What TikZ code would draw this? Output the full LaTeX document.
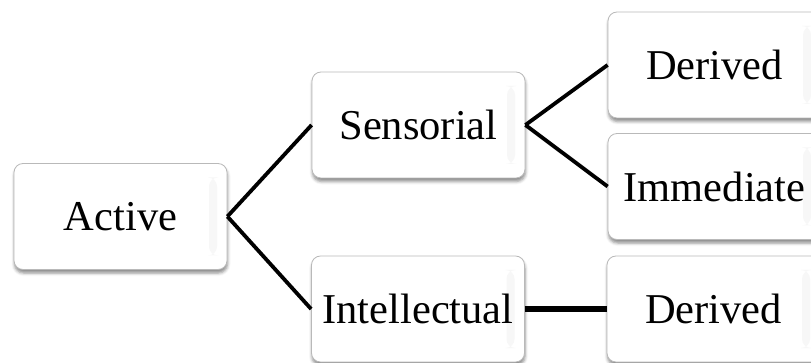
\documentclass[tikz,border=0pt]{standalone}
\usepackage{fontspec}
\setmainfont{Liberation Serif}
\usetikzlibrary{shadows.blur}
\tikzset{
  box/.style={draw=gray!55, line width=0.8pt, fill=white, rounded corners=9pt,
    minimum width=213pt, minimum height=106pt, inner sep=0pt,
    font=\fontsize{42.5}{48}\selectfont,
    blur shadow={shadow xshift=0.5pt, shadow yshift=-3.5pt, shadow blur radius=3pt, shadow opacity=45},
    % faint bevel strip inside the right edge, painted under the label
    path picture={\fill[gray!6]
      ([xshift=-18pt,yshift=-14pt]path picture bounding box.north east) rectangle
      ([xshift=-10pt,yshift=14pt]path picture bounding box.south east);}},
  link/.style={line width=3.8pt, black},
  biglink/.style={line width=6pt, black}
}
\begin{document}
\begin{tikzpicture}[x=1pt,y=-1pt]
\useasboundingbox (0,0) rectangle (811,363);
% tree of boxes
\node[box] (act) at (120.5,216.5) {Active};
\node[box] (sen) at (418.5,125) {Sensorial};
\node[box] (int) at (418,309) {Intellectual};
\node[box] (der1) at (714.5,65) {Derived};
\node[box] (imm) at (714.5,186.5) {Immediate};
\node[box] (der2) at (713.5,309) {Derived};
% connectors
\draw[link] (act.east) -- (sen.west);
\draw[link] (act.east) -- (int.west);
\draw[link] (sen.east) -- (der1.west);
\draw[link] (sen.east) -- (imm.west);
\draw[biglink] (int.east) -- (der2.west);
\end{tikzpicture}
\end{document}
